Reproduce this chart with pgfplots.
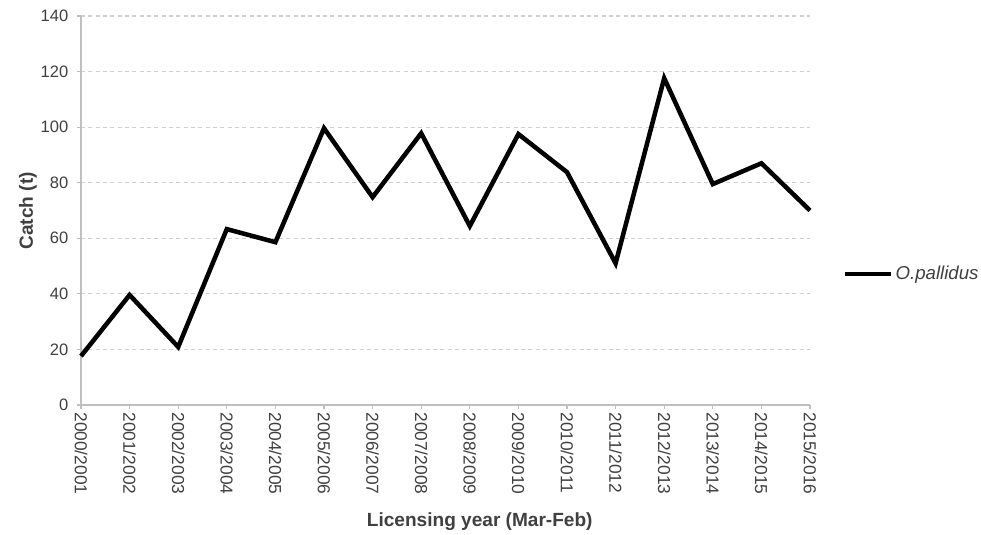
\documentclass[border=0pt]{standalone}
\usepackage{fontspec}
\setmainfont{Liberation Sans}
\usepackage{pgfplots}
\pgfplotsset{compat=1.18}
\definecolor{ticktext}{HTML}{404040}
\definecolor{axisgray}{HTML}{BFBFBF}
\definecolor{gridgray}{HTML}{D0D0D0}
\begin{document}
\begin{tikzpicture}
\begin{axis}[
  scale only axis,
  width=546.75pt, height=291.75pt,
  xmin=0, xmax=15, ymin=0, ymax=140,
  ytick={0,20,...,140},
  xtick={0,...,15},
  xticklabels={2000/2001,2001/2002,2002/2003,2003/2004,2004/2005,2005/2006,2006/2007,2007/2008,2008/2009,2009/2010,2010/2011,2011/2012,2012/2013,2013/2014,2014/2015,2015/2016},
  axis lines*=left,
  axis line style={axisgray, line width=1pt},
  tick style={axisgray, line width=0.8pt},
  tick align=outside, major tick length=3pt,
  ymajorgrids,
  major grid style={gridgray, dash pattern=on 3pt off 2.5pt, line width=0.8pt},
  /pgf/number format/assume math mode=true,
  yticklabel style={font=\fontsize{12.4}{14}\selectfont, color=ticktext, xshift=-3pt},
  xticklabel style={font=\fontsize{13}{15}\selectfont, color=ticktext, rotate=-90, anchor=west, xshift=-1pt},
  xlabel={Licensing year (Mar-Feb)},
  ylabel={Catch (t)},
  label style={font=\fontsize{14.3}{16}\selectfont\bfseries, color=ticktext},
  xlabel style={at={(axis description cs:0.547,-0.30)}, anchor=center},
  ylabel style={at={(axis description cs:-0.0727,0.499)}, anchor=center},
  clip=false,
  legend style={draw=none, fill=none, at={(axis description cs:1.044,0.337)}, anchor=west,
    font=\fontsize{14}{16}\selectfont\itshape\color{ticktext}, inner sep=0pt},
  legend image code/.code={\draw[#1,line width=3.4pt] (0pt,0pt) -- (34.5pt,0pt);},
]
\addplot[black, line width=3.4pt, line join=miter, mark=none] coordinates {
(0,17.6)(1,39.6)(2,20.9)(3,63.3)(4,58.6)(5,99.6)(6,74.8)(7,97.8)(8,64.4)(9,97.5)(10,83.8)(11,51)(12,117.6)(13,79.5)(14,87)(15,70)
};
\addlegendentry{O.pallidus}
\coordinate (O) at (rel axis cs:0,0);
\end{axis}
\pgfresetboundingbox
\path (O) ++(-60.75pt,-97.5pt) rectangle ++(735.75pt,401.25pt);
\end{tikzpicture}
\end{document}
